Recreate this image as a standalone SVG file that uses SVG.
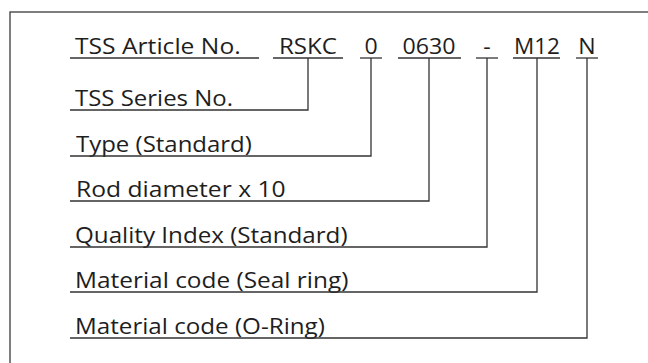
<svg xmlns="http://www.w3.org/2000/svg" width="648" height="363" viewBox="0 0 648 363">
<style>
.t{font-family:"Open Sans","Noto Sans","DejaVu Sans",sans-serif;font-size:22px;fill:#1e1e1e}
.c{text-anchor:middle}
.u{stroke:#333;stroke-width:1.3;fill:none}
.frame{stroke:#3a3a3a;stroke-width:1.3;fill:none}
</style>
<rect width="648" height="363" fill="#fff"/>
<rect class="frame" x="10" y="12" width="700" height="400"/>
<g id="header">
<text class="t" transform="translate(75,54) scale(1.12,1)">TSS Article No.</text>
<line class="u" x1="70" y1="58" x2="259" y2="58"/>
</g>
<g id="code-rskc">
<text class="t c" x="308" y="54" textLength="58" lengthAdjust="spacingAndGlyphs">RSKC</text>
<line class="u" x1="273" y1="58" x2="343" y2="58"/>
</g>
<g id="code-0">
<text class="t c" transform="translate(371,54) scale(1.05,1)">0</text>
<line class="u" x1="360" y1="58" x2="382" y2="58"/>
</g>
<g id="code-0630">
<text class="t c" x="429" y="54" textLength="53" lengthAdjust="spacingAndGlyphs">0630</text>
<line class="u" x1="398" y1="58" x2="461" y2="58"/>
</g>
<g id="code-dash">
<text class="t c" transform="translate(487,54) scale(1.05,1)">-</text>
<line class="u" x1="476" y1="58" x2="498" y2="58"/>
</g>
<g id="code-m12">
<text class="t c" x="537" y="54" textLength="46" lengthAdjust="spacingAndGlyphs">M12</text>
<line class="u" x1="513" y1="58" x2="560" y2="58"/>
</g>
<g id="code-n">
<text class="t c" transform="translate(587,54) scale(1.05,1)">N</text>
<line class="u" x1="576" y1="58" x2="598" y2="58"/>
</g>
<g id="label-series"><text class="t" transform="translate(75,106) scale(1.09,1)">TSS Series No.</text></g>
<g id="label-type"><text class="t" transform="translate(76,152) scale(1.09,1)">Type (Standard)</text></g>
<g id="label-rod"><text class="t" transform="translate(76,197) scale(1.12,1)">Rod diameter x 10</text></g>
<g id="label-quality"><text class="t" transform="translate(75,243) scale(1.10,1)">Quality Index (Standard)</text></g>
<g id="label-seal"><text class="t" transform="translate(75,288) scale(1.11,1)">Material code (Seal ring)</text></g>
<g id="label-oring"><text class="t" transform="translate(75,334) scale(1.10,1)">Material code (O-Ring)</text></g>
<g id="connectors" class="u">
<path d="M308 58V110H70"/>
<path d="M371 58V156H70"/>
<path d="M429 58V201H70"/>
<path d="M487 58V247H70"/>
<path d="M537 58V292H70"/>
<path d="M587 58V338H70"/>
</g>
</svg>
